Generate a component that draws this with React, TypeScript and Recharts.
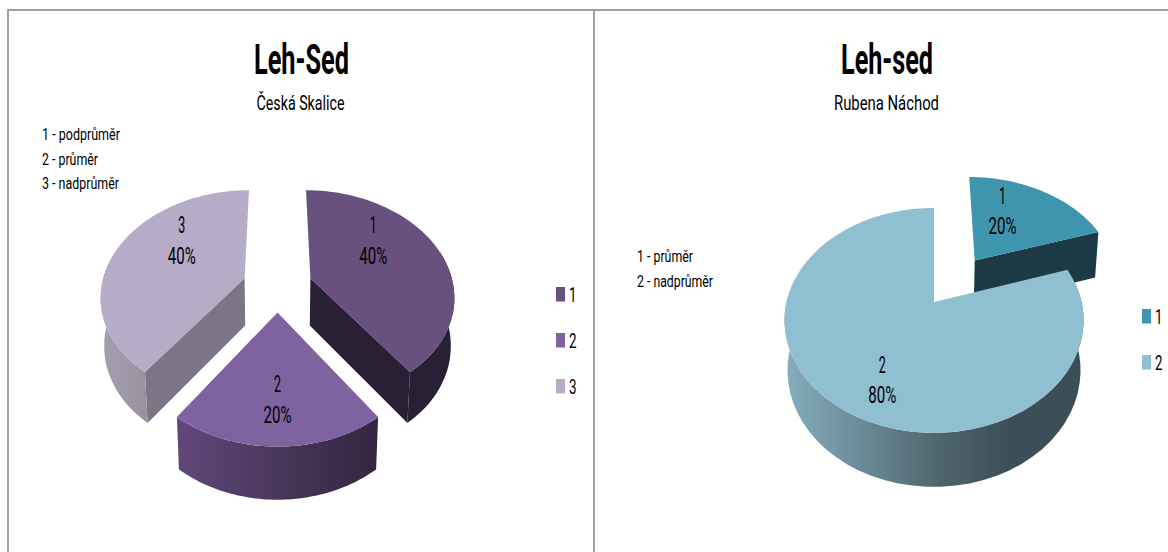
import { Legend, Pie, PieChart } from "recharts";

const skalCategories = ["1", "2", "3"];
const skalValues = [40, 20, 40];
const skalTop = ["#68507f", "#7f63a0", "#b7acc8"];
const skalCut = ["#2a2036", "#34253f", "#7c7585"];
const skalWall = [
  [[0, "#2a2036"], [1, "#2a2036"]],
  [[0, "#60487a"], [1, "#33253e"]],
  [[0, "#a69fb1"], [1, "#98919f"]],
];

const rubCategories = ["1", "2"];
const rubValues = [20, 80];
const rubTop = ["#3f95ae", "#90bfd1"];
const rubCut = ["#1b3a46", "#3c4e56"];
const rubWall = [
  [[0, "#1b3a46"], [1, "#1b3a46"]],
  [[0, "#86aebf"], [0.5, "#516871"], [0.75, "#3c4e56"], [1, "#3c4e56"]],
];

const FONT = "Roboto, sans-serif";
const RAD = Math.PI / 180;

type View = {
  id: string;
  explode: number[];
  squash: number;
  persp: number;
  depth: number;
  depthSlope: number;
  top: string[];
  cut: string[];
  wall: (string | number)[][][];
  nudge: number[][];
};

const skalView: View = {
  id: "skal",
  explode: [0.245, 0.245, 0.245],
  squash: 0.727,
  persp: 0.156,
  depth: 47.5,
  depthSlope: 4.5,
  top: skalTop,
  cut: skalCut,
  wall: skalWall,
  nudge: [[-21, -18], [0, 5], [21, -18]],
};

const rubView: View = {
  id: "rub",
  explode: [0.5, 0],
  squash: 0.742,
  persp: 0.164,
  depth: 49,
  depthSlope: 5,
  top: rubTop,
  cut: rubCut,
  wall: rubWall,
  nudge: [[-18, -3], [10, 15]],
};

// recharts hands over angles in degrees, counter-clockwise from 3 o'clock.
// This maps a disc point to the screen with a simple perspective squash.
function projector(view: View, cx: number, cy: number, r: number) {
  return (X: number, Z: number) => {
    const f = 1 / (1 - view.persp * Z);
    return { x: cx + r * X * f, y: cy + r * view.squash * Z * f, Z };
  };
}

function lowered(view: View, cx: number, p: { x: number; y: number; Z: number }) {
  return {
    x: cx + (p.x - cx) * 0.98,
    y: p.y + view.depth + view.depthSlope * p.Z,
    Z: p.Z,
  };
}

const toPath = (pts: { x: number; y: number }[]) =>
  pts.map((p, i) => `${i ? "L" : "M"}${p.x.toFixed(1)} ${p.y.toFixed(1)}`).join(" ") + " Z";

function sliceShape(view: View) {
  return function SliceShape(props: any) {
    const { cx, cy, outerRadius, startAngle, endAngle, midAngle, index } = props;
    const project = projector(view, cx, cy, outerRadius);
    const e = view.explode[index];
    const ox = e * Math.cos(midAngle * RAD);
    const oz = -e * Math.sin(midAngle * RAD);

    const arc: { x: number; y: number; Z: number }[] = [];
    const front: { x: number; y: number; Z: number }[] = [];
    const steps = 60;
    for (let i = 0; i <= steps; i++) {
      const a = (startAngle + ((endAngle - startAngle) * i) / steps) * RAD;
      const p = project(ox + Math.cos(a), oz - Math.sin(a));
      arc.push(p);
      // the back of the wall is never seen
      if (-Math.sin(a) > -0.3) front.push(p);
    }
    const apex = project(ox, oz);
    const low = (p: { x: number; y: number; Z: number }) => lowered(view, cx, p);
    const gradId = `${view.id}-wall-${index}`;
    const first = arc[0];
    const last = arc[arc.length - 1];
    // a cut face shows only when it turns toward the viewer
    const showStart = -Math.cos(startAngle * RAD) > 0.01;
    const showEnd = Math.cos(endAngle * RAD) > 0.01;

    return (
      <g>
        <defs>
          <linearGradient id={gradId} x1="0" y1="0" x2="1" y2="0">
            {view.wall[index].map(([o, c]) => (
              <stop key={String(o)} offset={o as number} stopColor={c as string} />
            ))}
          </linearGradient>
        </defs>
        {showStart && <path d={toPath([apex, first, low(first), low(apex)])} fill={view.cut[index]} />}
        {showEnd && <path d={toPath([apex, last, low(last), low(apex)])} fill={view.cut[index]} />}
        {front.length > 1 && (
          <path d={toPath([...front, ...front.map(low).reverse()])} fill={`url(#${gradId})`} />
        )}
        <path d={toPath([apex, ...arc])} fill={view.top[index]} />
      </g>
    );
  };
}

function Txt({ x, y, w, size, bold, anchor = "middle", children }: any) {
  return (
    <text
      x={x}
      y={y}
      textAnchor={anchor}
      textLength={w}
      lengthAdjust="spacingAndGlyphs"
      fontFamily={FONT}
      fontSize={size}
      fontWeight={bold ? 700 : 400}
      fill="#000"
    >
      {children}
    </text>
  );
}

function sliceLabel(view: View) {
  return function SliceLabel(props: any) {
    const { cx, cy, outerRadius, midAngle, index, percent, name } = props;
    const project = projector(view, cx, cy, outerRadius);
    const e = view.explode[index] + 0.65;
    const p = project(e * Math.cos(midAngle * RAD), -e * Math.sin(midAngle * RAD));
    const x = p.x + view.nudge[index][0];
    const y = p.y + view.nudge[index][1];
    return (
      <g>
        <Txt x={x} y={y - 7} w={7} size={23}>
          {name}
        </Txt>
        <Txt x={x} y={y + 23.5} w={28} size={23}>
          {`${Math.round(percent * 100)}%`}
        </Txt>
      </g>
    );
  };
}

function SquareLegend({ payload }: any) {
  return (
    <svg width={34} height={(payload?.length ?? 0) * 46.5 + 10} style={{ display: "block" }}>
      {(payload ?? []).map((entry: any, i: number) => (
        <g key={entry.value}>
          <rect x={0} y={i * 46 + 7} width={9} height={14.5} fill={entry.color} />
          <Txt x={13} y={i * 46 + 22} w={7.5} size={20} anchor="start">
            {entry.value}
          </Txt>
        </g>
      ))}
    </svg>
  );
}

const skalRows = skalCategories.map((name, i) => ({ name, value: skalValues[i], fill: skalTop[i] }));
const rubRows = rubCategories.map((name, i) => ({ name, value: rubValues[i], fill: rubTop[i] }));

const LINE = "#a0a0a0";

export default function App() {
  return (
    <div style={{ position: "absolute", left: 0, top: 0, width: 1168, height: 552, overflow: "hidden", background: "#fff" }}>
      <div style={{ position: "absolute", left: 7, top: 9, width: 584, height: 560, borderLeft: `2px solid ${LINE}`, borderTop: `2px solid ${LINE}`, borderRight: `1.5px solid ${LINE}` }} />
      <div style={{ position: "absolute", left: 594, top: 9, width: 600, height: 560, borderLeft: `1.5px solid ${LINE}`, borderTop: `2px solid ${LINE}` }} />

      <div style={{ position: "absolute", left: 0, top: 0 }}>
        <PieChart width={593} height={552} margin={{ top: 0, right: 0, bottom: 0, left: 0 }}>
          <Txt x={301.5} y={74} w={95} size={43} bold>Leh-Sed</Txt>
          <Txt x={300.5} y={110} w={88} size={20}>Česká Skalice</Txt>
          <Txt x={42} y={140} w={78} size={17} anchor="start">1 - podprůměr</Txt>
          <Txt x={42} y={164.5} w={56} size={17} anchor="start">2 - průměr</Txt>
          <Txt x={42} y={189} w={77} size={17} anchor="start">3 - nadprůměr</Txt>
          <Pie
            data={skalRows}
            dataKey="value"
            nameKey="name"
            cx={277.5}
            cy={286}
            outerRadius={143}
            startAngle={90}
            endAngle={-270}
            stroke="none"
            shape={sliceShape(skalView)}
            label={sliceLabel(skalView)}
            labelLine={false}
            isAnimationActive={false}
          />
          <Legend
            content={<SquareLegend />}
            layout="vertical"
            wrapperStyle={{ left: 556, top: 280, width: 34, right: "auto", bottom: "auto" }}
          />
        </PieChart>
      </div>

      <div style={{ position: "absolute", left: 593, top: 0 }}>
        <PieChart width={575} height={552} margin={{ top: 0, right: 0, bottom: 0, left: 0 }}>
          <Txt x={294} y={74} w={92} size={43} bold>Leh-sed</Txt>
          <Txt x={293.5} y={110} w={105} size={20}>Rubena Náchod</Txt>
          <Txt x={44} y={262} w={56} size={17} anchor="start">1 - průměr</Txt>
          <Txt x={44} y={287} w={76} size={17} anchor="start">2 - nadprůměr</Txt>
          <Pie
            data={rubRows}
            dataKey="value"
            nameKey="name"
            cx={341}
            cy={302}
            outerRadius={147.5}
            startAngle={90}
            endAngle={-270}
            stroke="none"
            shape={sliceShape(rubView)}
            label={sliceLabel(rubView)}
            labelLine={false}
            isAnimationActive={false}
          />
          <Legend
            content={<SquareLegend />}
            layout="vertical"
            wrapperStyle={{ left: 549, top: 302, width: 34, right: "auto", bottom: "auto" }}
          />
        </PieChart>
      </div>
    </div>
  );
}
